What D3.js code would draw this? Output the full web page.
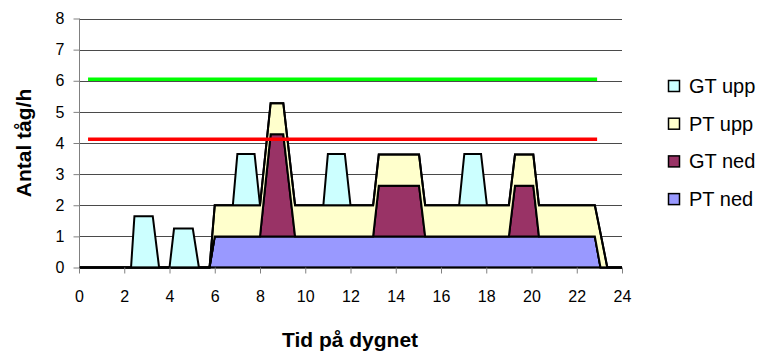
<!DOCTYPE html>
<html>
<head>
<meta charset="utf-8">
<script src="https://cdn.jsdelivr.net/npm/d3@7"></script>
<style>
  html, body { margin: 0; padding: 0; background: #fff; }
  svg { display: block; font-family: "Liberation Sans", Arial, sans-serif; }
</style>
</head>
<body>
<svg id="chart" width="761" height="355"></svg>
<script>
// Time of day (hours) at each breakpoint of the traffic profile
const hours = [0, 2.3, 2.45, 3.26, 3.54, 4.0, 4.2, 5.03, 5.3, 5.77, 6.0, 6.8, 7.0, 7.76, 8.0, 8.47, 9.03, 9.55,
  10.8, 11.0, 11.75, 12.0, 13.0, 13.25, 15.03, 15.3, 16.8, 17.03, 17.77, 18.03, 19.0, 19.27, 20.08, 20.33,
  22.8, 23.05, 23.35, 24];

// Trains per hour, by train type and direction
const ptNed = [0, 0, 0, 0, 0, 0, 0, 0, 0, 0, 1, 1, 1, 1, 1, 1, 1, 1,
  1, 1, 1, 1, 1, 1, 1, 1, 1, 1, 1, 1, 1, 1, 1, 1,
  1, 0, 0, 0];
const gtNed = [0, 0, 0, 0, 0, 0, 0, 0, 0, 0, 0, 0, 0, 0, 0, 3.28, 3.28, 0,
  0, 0, 0, 0, 0, 1.63, 1.63, 0, 0, 0, 0, 0, 0, 1.63, 1.63, 0,
  0, 0, 0, 0];
const ptUpp = [0, 0, 0, 0, 0, 0, 0, 0, 0, 0, 1, 1, 1, 1, 1, 1, 1, 1,
  1, 1, 1, 1, 1, 1, 1, 1, 1, 1, 1, 1, 1, 1, 1, 1,
  1, 1.1, 0, 0];
const gtUpp = [0, 0, 1.65, 1.65, 0, 0, 1.25, 1.25, 0, 0, 0, 0, 1.65, 1.65, 0, 0, 0, 0,
  0, 1.65, 1.65, 0, 0, 0, 0, 0, 0, 1.65, 1.65, 0, 0, 0, 0, 0,
  0, 0, 0, 0];

// Series, stacked from the bottom up
const seriesKeys = ["PT ned", "GT ned", "PT upp", "GT upp"];
const seriesColors = { "PT ned": "#9999FF", "GT ned": "#993366", "PT upp": "#FFFFCC", "GT upp": "#CCFFFF" };
const legendOrder = ["GT upp", "PT upp", "GT ned", "PT ned"];

// Capacity limits
const limitHours = [0.4, 22.9];
const greenLimit = [6.05, 6.05];
const redLimit = [4.12, 4.12];

// Axis ticks
const xTicks = [0, 2, 4, 6, 8, 10, 12, 14, 16, 18, 20, 22, 24];
const yTicks = [0, 1, 2, 3, 4, 5, 6, 7, 8];

const svg = d3.select("#chart");
const plotLeft = 79, plotRight = 622, plotTop = 18.5, plotBottom = 267.5;

const x = d3.scaleLinear().domain([0, 24]).range([plotLeft, plotRight]);
const y = d3.scaleLinear().domain([0, 8]).range([plotBottom, plotTop]);

// Horizontal gridlines
svg.append("g")
  .selectAll("line")
  .data(yTicks.filter(v => v > 0))
  .join("line")
  .attr("x1", plotLeft).attr("x2", plotRight)
  .attr("y1", d => Math.round(y(d)) + 0.5).attr("y2", d => Math.round(y(d)) + 0.5)
  .attr("stroke", "#4a4a4a").attr("stroke-width", 1);

// Stacked areas
const rows = hours.map((h, i) => ({
  h,
  "PT ned": ptNed[i],
  "GT ned": gtNed[i],
  "PT upp": ptUpp[i],
  "GT upp": gtUpp[i]
}));
const stacked = d3.stack().keys(seriesKeys)(rows);

const area = d3.area()
  .x(d => x(d.data.h))
  .y0(d => y(d[0]))
  .y1(d => y(d[1]));

svg.append("g")
  .selectAll("path")
  .data(stacked)
  .join("path")
  .attr("d", area)
  .attr("fill", d => seriesColors[d.key])
  .attr("stroke", "#000")
  .attr("stroke-width", 2)
  .attr("stroke-linejoin", "miter");

// Y axis
const yAxis = d3.axisLeft(y).tickValues(yTicks).tickSize(6).tickPadding(9).tickFormat(d3.format("d"));
const gy = svg.append("g").attr("transform", `translate(${plotLeft + 0.5},0)`).call(yAxis);
gy.select(".domain").attr("stroke", "#808080").attr("d", `M0,${plotTop}V${plotBottom}`);
gy.selectAll(".tick line").attr("stroke", "#808080");
gy.selectAll(".tick text").attr("font-size", 16).attr("font-family", "Liberation Sans, Arial, sans-serif").attr("fill", "#000");

// X axis
const xAxis = d3.axisBottom(x).tickValues(xTicks).tickSize(6).tickPadding(17).tickFormat(d3.format("d"));
const gx = svg.append("g").attr("transform", `translate(0,${plotBottom})`).call(xAxis);
gx.select(".domain").attr("stroke", "#000").attr("stroke-width", 1.5).attr("d", `M${plotLeft},0H${plotRight}`);
gx.selectAll(".tick line").attr("stroke", "#808080");
gx.selectAll(".tick text").attr("font-size", 16).attr("font-family", "Liberation Sans, Arial, sans-serif").attr("fill", "#000");

// Capacity lines
const limitLine = d3.line().x(d => x(d[0])).y(d => y(d[1]));
svg.append("path")
  .attr("d", limitLine(limitHours.map((h, i) => [h, greenLimit[i]])))
  .attr("stroke", "#00FF00").attr("stroke-width", 3.5).attr("fill", "none");
svg.append("path")
  .attr("d", limitLine(limitHours.map((h, i) => [h, redLimit[i]])))
  .attr("stroke", "#FF0000").attr("stroke-width", 3.5).attr("fill", "none");

// Axis titles
svg.append("text")
  .attr("x", 350).attr("y", 347)
  .attr("text-anchor", "middle")
  .attr("font-size", 21).attr("font-weight", "bold")
  .text("Tid på dygnet");

svg.append("text")
  .attr("transform", `translate(31,${(plotTop + plotBottom) / 2}) rotate(-90)`)
  .attr("text-anchor", "middle")
  .attr("font-size", 21).attr("font-weight", "bold")
  .text("Antal tåg/h");

// Legend
const legend = svg.append("g").attr("transform", "translate(668,86)");
const item = legend.selectAll("g")
  .data(legendOrder)
  .join("g")
  .attr("transform", (d, i) => `translate(0,${i * 37.7})`);
item.append("rect")
  .attr("x", 0.5).attr("y", -5.5).attr("width", 11).attr("height", 11)
  .attr("fill", d => seriesColors[d]).attr("stroke", "#000").attr("stroke-width", 1.5);
item.append("text")
  .attr("x", 21).attr("y", 0).attr("dy", "0.35em")
  .attr("font-size", 20)
  .text(d => d);
</script>
</body>
</html>
